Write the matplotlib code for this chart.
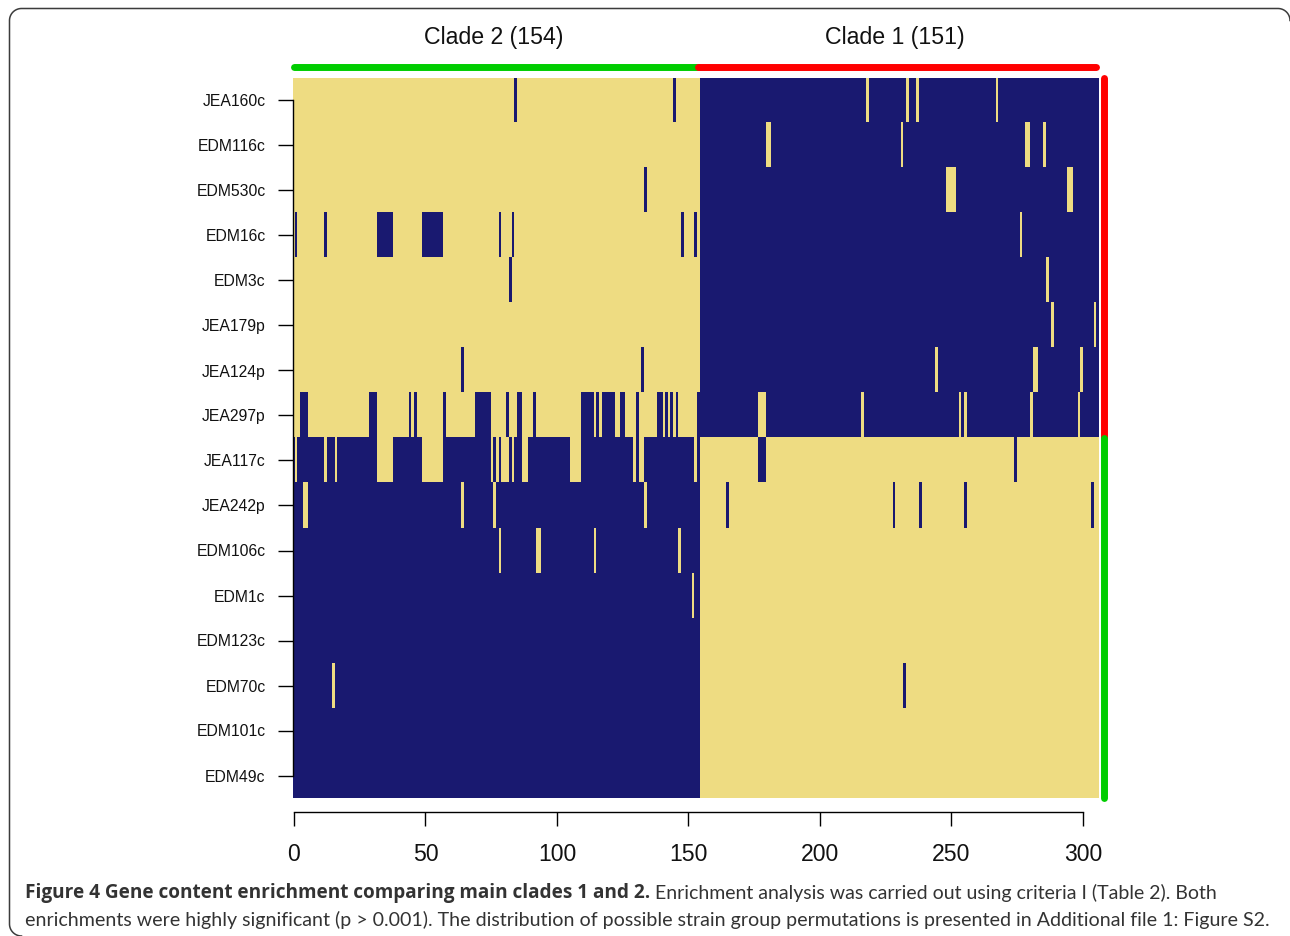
import numpy as np
import matplotlib
matplotlib.use("Agg")
import matplotlib.pyplot as plt
from matplotlib.colors import ListedColormap

# row labels, top to bottom
genes = ["JEA160c", "EDM116c", "EDM530c", "EDM16c", "EDM3c", "JEA179p", "JEA124p", "JEA297p",
         "JEA117c", "JEA242p", "EDM106c", "EDM1c", "EDM123c", "EDM70c", "EDM101c", "EDM49c"]

n_strains = 305
clade2_size = 154
clade2_label = "Clade 2 (154)"
clade1_label = "Clade 1 (151)"
n_top_rows = 8  # rows enriched in clade 1

# strains which differ from the main pattern of their row
exceptions = [
    [84, 144, 217, 232, 236, 266],
    [179, 180, 230, 277, 278, 284],
    [133, 247, 248, 249, 250, 293, 294],
    [1, 12, 32, 33, 34, 35, 36, 37, 49, 50, 51, 52, 53, 54, 55, 56, 78, 83, 147, 152, 275],
    [82, 285],
    [287, 303],
    [64, 132, 243, 280, 281, 298],
    [3, 4, 5, 29, 30, 31, 44, 46, 57, 69, 70, 71, 72, 73, 74, 81, 85, 86, 91,
     109, 110, 111, 112, 113, 115, 117, 118, 119, 120, 121, 124, 125, 130,
     138, 139, 141, 143, 145, 153, 176, 177, 178, 215, 252, 254, 279, 297],
    [1, 12, 16, 32, 33, 34, 35, 36, 37, 49, 50, 51, 52, 53, 54, 55, 56, 75, 77, 79, 80, 81, 83,
     87, 88, 105, 106, 107, 108, 129, 131, 132, 152, 176, 177, 178, 273],
    [4, 5, 64, 76, 133, 164, 227, 237, 254, 302],
    [78, 92, 93, 114, 146],
    [151],
    [],
    [15, 231],
    [],
    [],
]

xtick_values = [0, 50, 100, 150, 200, 250, 300]

caption_bold = "Figure 4 Gene content enrichment comparing main clades 1 and 2."
caption_rest = " Enrichment analysis was carried out using criteria I (Table 2). Both"
caption_line2 = ("enrichments were highly significant (p > 0.001). The distribution of possible "
                 "strain group permutations is presented in Additional file 1: Figure S2.")

# 0 = absent (yellow), 1 = present (blue)
matrix = np.zeros((len(genes), n_strains), dtype=int)
for r, flips in enumerate(exceptions):
    if r < n_top_rows:
        matrix[r, clade2_size:] = 1
    else:
        matrix[r, :clade2_size] = 1
    for c in flips:
        matrix[r, c] = 1 - matrix[r, c]

W, H = 1290, 936
plt.rcParams["font.family"] = ["Liberation Sans", "DejaVu Sans"]
fig = plt.figure(figsize=(W / 100, H / 100), dpi=100)

# page layer in pixels, for the frame and the caption
page = fig.add_axes([0, 0, 1, 1])
page.set_xlim(0, W)
page.set_ylim(H, 0)
page.axis("off")

# frame: open at the bottom and the right, only the corners show
rad = 12
a = np.linspace(0, np.pi / 2, 20)
frame_x = np.concatenate([9.5 + rad - rad * np.cos(a[::-1]), 9.5 + rad - rad * np.cos(a),
                          1278 + rad * np.sin(a)])
frame_y = np.concatenate([924 + rad * np.sin(a[::-1]), 8.5 + rad - rad * np.sin(a),
                          8.5 + rad - rad * np.cos(a)])
page.plot(frame_x, frame_y, color="#3c3c3c", lw=1.1)

left, right, top, bottom = 292.6, 1097.9, 78, 798
ax = fig.add_axes([left / W, 1 - bottom / H, (right - left) / W, (bottom - top) / H])
# the tick scale of the original is a little narrower than the cells
x0, x1 = -0.53, 305.67
ax.imshow(matrix, cmap=ListedColormap(["#EEDC82", "#191970"]), aspect="auto", interpolation="nearest",
          extent=(x0 - 0.3, x1, len(genes) - 0.5, -0.5))

# clade bars
bar_y = -0.745
bar_x = 308
ax.plot([0, 153.8], [bar_y, bar_y], color="#00CD00", lw=5, solid_capstyle="round", clip_on=False)
ax.plot([153.8, 305.1], [bar_y, bar_y], color="#FF0000", lw=5, solid_capstyle="round", clip_on=False)
ax.plot([bar_x, bar_x], [-0.5, n_top_rows - 0.5], color="#FF0000", lw=5, solid_capstyle="round", clip_on=False)
ax.plot([bar_x, bar_x], [n_top_rows - 0.5, len(genes) - 0.5], color="#00CD00", lw=5, solid_capstyle="round", clip_on=False)
ax.set_xlim(x0, x1)
ax.set_ylim(len(genes) - 0.5, -0.5)

ax.text(76, -1.39, clade2_label, ha="center", va="center", fontsize=16.7, color="#111111")
ax.text(228.5, -1.39, clade1_label, ha="center", va="center", fontsize=16.7, color="#111111")

for s in ["top", "right"]:
    ax.spines[s].set_visible(False)
ax.spines["left"].set_bounds(0, len(genes) - 1)
ax.spines["bottom"].set_position(("outward", 10))
ax.spines["bottom"].set_bounds(0, 300)
ax.spines["left"].set_linewidth(1.0)
ax.spines["bottom"].set_linewidth(1.0)

ax.set_yticks(range(len(genes)))
ax.set_yticklabels(genes, fontsize=11.3, color="#111111")
ax.tick_params(axis="y", length=10.8, width=1.0, pad=8.7)
ax.set_xticks(xtick_values)
ax.tick_params(axis="x", labelsize=16.6, length=10, width=1.0, pad=12.5, labelcolor="#111111")

# caption
cap = dict(fontsize=14.0, color="#333333", va="center")
t1 = page.text(25, 893, caption_bold, fontweight="bold", family=["Open Sans", "DejaVu Sans"],
               fontsize=13.7, color="#333333", va="center")
fig.canvas.draw()
bold_end = page.transData.inverted().transform(t1.get_window_extent().get_points())[1, 0]
page.text(bold_end, 893, caption_rest, family=["Lato", "DejaVu Sans"], **cap)
page.text(25, 920, caption_line2, family=["Lato", "DejaVu Sans"], fontsize=14.1, color="#333333", va="center")

fig.savefig("out.png", dpi=100)
